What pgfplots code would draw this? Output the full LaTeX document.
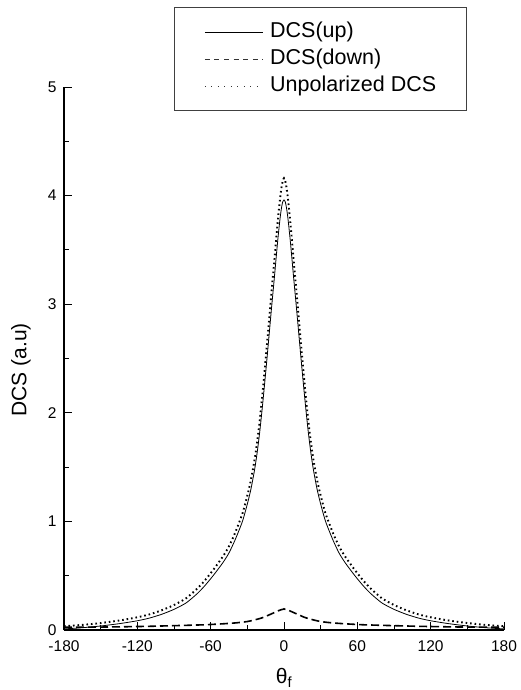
\documentclass[border=0pt]{standalone}
\usepackage{fontspec}
\setmainfont{Liberation Sans}
\usepackage{pgfplots}
\usepackage{pgfplotstable}
\pgfplotsset{compat=1.18}

\pgfplotstableread{
x up down unpol
-180 0.010 0.025 0.035
-165 0.021 0.026 0.047
-150 0.037 0.027 0.064
-135 0.058 0.029 0.087
-120 0.085 0.032 0.117
-110 0.110 0.034 0.144
-100 0.145 0.037 0.182
-90 0.190 0.040 0.230
-80 0.250 0.043 0.293
-71 0.335 0.046 0.381
-65 0.405 0.048 0.453
-58 0.500 0.052 0.552
-50 0.620 0.057 0.677
-45 0.710 0.061 0.771
-40 0.830 0.065 0.895
-34 1.000 0.072 1.072
-30 1.160 0.078 1.238
-27 1.300 0.085 1.385
-24 1.480 0.093 1.573
-22 1.630 0.099 1.729
-20 1.810 0.105 1.915
-18 2.020 0.112 2.132
-16 2.250 0.120 2.370
-14 2.490 0.130 2.620
-12 2.740 0.140 2.880
-10 2.990 0.150 3.140
-8 3.230 0.160 3.390
-6 3.480 0.170 3.650
-5 3.600 0.175 3.775
-4 3.710 0.180 3.890
-3 3.810 0.184 3.994
-2 3.890 0.188 4.078
-1 3.945 0.190 4.135
0 3.960 0.195 4.160
1 3.945 0.190 4.135
2 3.890 0.188 4.078
3 3.810 0.184 3.994
4 3.710 0.180 3.890
5 3.600 0.175 3.775
6 3.480 0.170 3.650
8 3.230 0.160 3.390
10 2.990 0.150 3.140
12 2.740 0.140 2.880
14 2.490 0.130 2.620
16 2.250 0.120 2.370
18 2.020 0.112 2.132
20 1.810 0.105 1.915
22 1.630 0.099 1.729
24 1.480 0.093 1.573
27 1.300 0.085 1.385
30 1.160 0.078 1.238
34 1.000 0.072 1.072
40 0.830 0.065 0.895
45 0.710 0.061 0.771
50 0.620 0.057 0.677
58 0.500 0.052 0.552
65 0.405 0.048 0.453
71 0.335 0.046 0.381
80 0.250 0.043 0.293
90 0.190 0.040 0.230
100 0.145 0.037 0.182
110 0.110 0.034 0.144
120 0.085 0.032 0.117
135 0.058 0.029 0.087
150 0.037 0.027 0.064
165 0.021 0.026 0.047
180 0.010 0.025 0.035
}\dcsdata

\begin{document}
\begin{tikzpicture}
\begin{axis}[
  scale only axis,
  width=440bp, height=543bp,
  xmin=-180, xmax=180, ymin=0, ymax=5,
  axis lines*=left,
  axis line style={line width=1.1bp, black},
  tick align=inside,
  tick style={line width=0.9bp, black},
  major tick length=8bp,
  minor tick length=5bp,
  xtick={-180,-120,-60,0,60,120,180},
  ytick={0,1,2,3,4,5},
  minor x tick num=1,
  minor y tick num=1,
  /pgf/number format/assume math mode=true,
  tick label style={font=\fontsize{15.5bp}{18bp}\selectfont},
  xticklabel style={yshift=-7bp},
  yticklabel style={xshift=-4bp},
  ylabel={DCS (a.u)},
  xlabel={θ\textsubscript{f}},
  label style={font=\fontsize{21bp}{25bp}\selectfont},
  ylabel style={at={(axis description cs:-0.098,0.479)}, anchor=center},
  xlabel style={at={(axis description cs:0.5,-0.088)}, anchor=center},
  legend cell align=left,
  legend style={
    at={(axis description cs:0.25,1.1473)}, anchor=north west,
    draw=black!75, line width=1bp,
    font=\fontsize{21.5bp}{26bp}\selectfont,
    inner xsep=30bp, inner ysep=14bp,
    row sep=6bp, column sep=7bp,
    nodes={inner sep=0bp, text height=16bp, text depth=5bp},
  },
]
\addplot[black, line width=0.8bp, smooth, tension=0.4,
  legend image code/.code={\draw[black, line width=0.6bp] (0bp,0bp) -- (58bp,0bp);}]
  table[x=x, y=up] {\dcsdata};
\addlegendentry{DCS(up)}
\addplot[black, line width=1.6bp, dash pattern=on 8bp off 4bp, smooth, tension=0.4,
  legend image code/.code={\draw[black!80, line width=0.6bp, dash pattern=on 5bp off 4.6bp] (0bp,0bp) -- (58bp,0bp);}]
  table[x=x, y=down] {\dcsdata};
\addlegendentry{DCS(down)}
\addplot[black, line width=1.9bp, dash pattern=on 1.6bp off 2.9bp, smooth, tension=0.4,
  legend image code/.code={\draw[black!80, line width=0.7bp, dash pattern=on 1bp off 5.5bp] (0bp,0bp) -- (58bp,0bp);}]
  table[x=x, y=unpol] {\dcsdata};
\addlegendentry{Unpolarized DCS}
\end{axis}
\pgfresetboundingbox
\path ([shift={(-64bp,-60bp)}]current axis.south west) rectangle ([shift={(17bp,87bp)}]current axis.north east);
\end{tikzpicture}
\end{document}
